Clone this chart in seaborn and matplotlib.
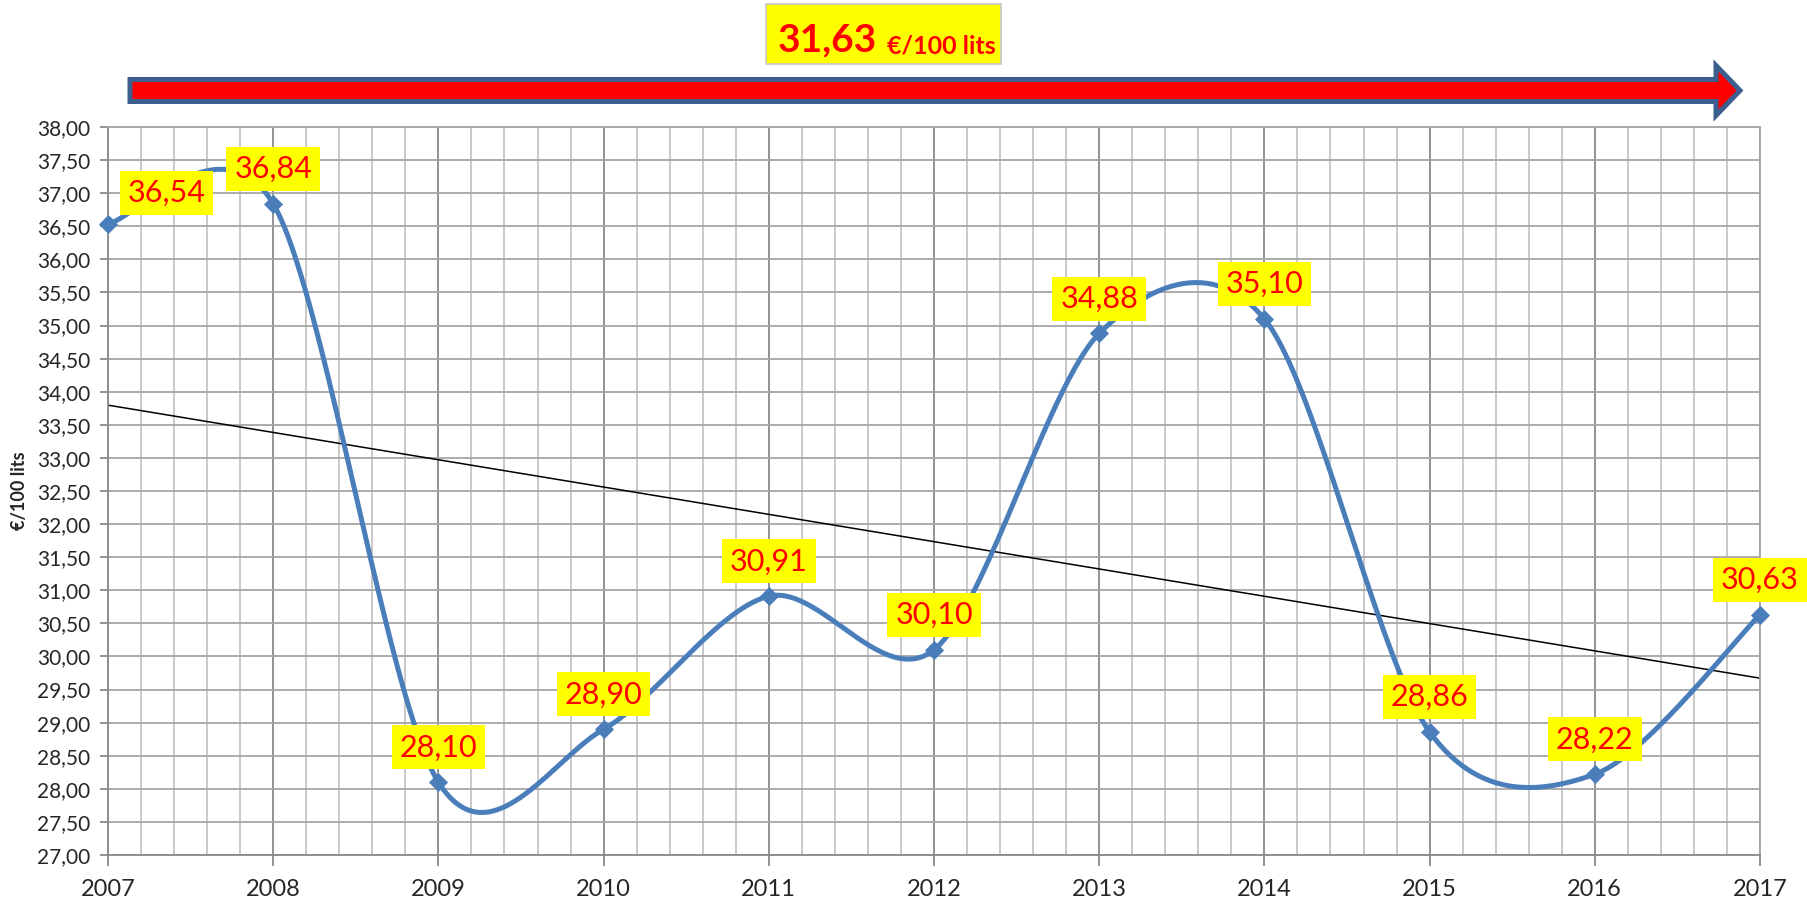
# %% Imports
import matplotlib
matplotlib.use("Agg")
import matplotlib.pyplot as plt
import matplotlib.patches as mpatches
from matplotlib.text import Annotation
from matplotlib.ticker import FuncFormatter, MultipleLocator
from matplotlib.transforms import IdentityTransform
import numpy as np
import pandas as pd
import seaborn as sns

# %% Data
years = [2007, 2008, 2009, 2010, 2011, 2012, 2013, 2014, 2015, 2016, 2017]
price = [36.54, 36.84, 28.10, 28.90, 30.91, 30.10, 34.88, 35.10, 28.86, 28.22, 30.63]
average_label = "31,63"
unit_label = "€/100 lits"

df = pd.DataFrame({"year": years, "price": price})


def comma(v, pos=None):
    return f"{v:.2f}".replace(".", ",")


# Excel-style smoothed line: Catmull-Rom as cubic Bezier segments
def smooth(x, y, n=60, k=0.155):
    x = np.asarray(x, float)
    y = np.asarray(y, float)
    px = np.concatenate([[x[0]], x, [x[-1]]])
    py = np.concatenate([[y[0]], y, [y[-1]]])
    xs, ys = [], []
    t = np.linspace(0, 1, n)
    for i in range(1, len(px) - 2):
        p0 = np.array([px[i], py[i]])
        p3 = np.array([px[i + 1], py[i + 1]])
        c1 = p0 + (p3 - np.array([px[i - 1], py[i - 1]])) * k
        c2 = p3 - (np.array([px[i + 2], py[i + 2]]) - p0) * k
        b = ((1 - t) ** 3)[:, None] * p0 + (3 * (1 - t) ** 2 * t)[:, None] * c1 \
            + (3 * (1 - t) * t ** 2)[:, None] * c2 + (t ** 3)[:, None] * p3
        xs.append(b[:, 0])
        ys.append(b[:, 1])
    return np.concatenate(xs), np.concatenate(ys)


# %% Figure
sns.set_style("white")
plt.rcParams["font.family"] = ["Lato", "DejaVu Sans"]

W, H = 1808, 901
fig = plt.figure(figsize=(W / 100, H / 100), dpi=100)
left, right, top, bottom = 108, 1760, 127, 855
ax = fig.add_axes([left / W, 1 - bottom / H, (right - left) / W, (bottom - top) / H])

# grid
ax.set_xlim(2007, 2017)
ax.set_ylim(27, 38)
ax.xaxis.set_major_locator(MultipleLocator(1))
ax.xaxis.set_minor_locator(MultipleLocator(0.2))
ax.yaxis.set_major_locator(MultipleLocator(0.5))
ax.grid(which="minor", axis="x", color="#c4c4c4", lw=1.3, zorder=0)
ax.grid(which="major", axis="x", color="#8a8a8a", lw=1.3, zorder=0)
ax.grid(which="major", axis="y", color="#a6a6a6", lw=1.3, zorder=0)
ax.set_axisbelow(True)
for s in ax.spines.values():
    s.set_color("#a6a6a6")
    s.set_linewidth(1.3)
ax.spines["left"].set_color("#8a8a8a")
ax.spines["bottom"].set_color("#8a8a8a")

# trend line
sns.regplot(data=df, x="year", y="price", scatter=False, ci=None, ax=ax,
            line_kws=dict(color="black", lw=1.1, zorder=2))

# smoothed series + markers
sx, sy = smooth(years, price)
ax.plot(sx, sy, color="#4a7ebb", lw=3.6, zorder=3, solid_capstyle="round")
sns.scatterplot(data=df, x="year", y="price", marker="D", s=95, color="#4a7ebb",
                edgecolor="#4a7ebb", linewidth=0, ax=ax, zorder=4, clip_on=False)

# data labels
for i, (x, y) in enumerate(zip(years, price)):
    box = dict(boxstyle="square,pad=0.26", fc="#ffff00", ec="none")
    if i == 0:
        ax.annotate(comma(y), (x, y), xytext=(14, 12), textcoords="offset points",
                    ha="left", va="bottom", fontsize=22, color="#ff0000",
                    bbox=box, zorder=5, annotation_clip=False)
    else:
        ax.annotate(comma(y), (x, y), xytext=(0, 15), textcoords="offset points",
                    ha="center", va="bottom", fontsize=22, color="#ff0000",
                    bbox=box, zorder=5, annotation_clip=False)

# axes text
ax.yaxis.set_major_formatter(FuncFormatter(comma))
ax.tick_params(axis="y", which="major", length=6, width=1.3, color="#8a8a8a",
               labelsize=15, pad=7, left=True)
ax.tick_params(axis="x", which="major", length=8, width=1.3, color="#8a8a8a",
               labelsize=17, pad=9, bottom=True)
ax.tick_params(axis="x", which="minor", length=0)
ax.set_xlabel("")
ax.set_ylabel(unit_label, fontsize=13, fontweight="bold", labelpad=6)

# top arrow
arrow = mpatches.FancyArrow(130, H - 90.5, 1586, 0, width=22, head_width=50,
                            head_length=24, length_includes_head=False,
                            fc="#ff0000", ec="#3d5f8f", lw=3.6,
                            transform=IdentityTransform(), figure=fig)
fig.patches.append(arrow)

# average box
rect = mpatches.Rectangle((766 / W, 1 - 64 / H), 235 / W, 60 / H,
                          transform=fig.transFigure, fc="#ffff00", ec="#c8c8c8",
                          lw=1.2, figure=fig)
fig.patches.append(rect)
avg = fig.text(778 / W, 1 - 51 / H, average_label, fontsize=28, fontweight="bold",
               color="#ff0000", va="baseline", ha="left", zorder=5)
unit = Annotation(unit_label, xy=(1, 0), xycoords=avg, xytext=(7, 0),
                  textcoords="offset points", fontsize=18, fontweight="bold",
                  color="#ff0000", va="bottom", ha="left", zorder=5)
fig.add_artist(unit)

fig.savefig("out.png", dpi=100, facecolor="white")
